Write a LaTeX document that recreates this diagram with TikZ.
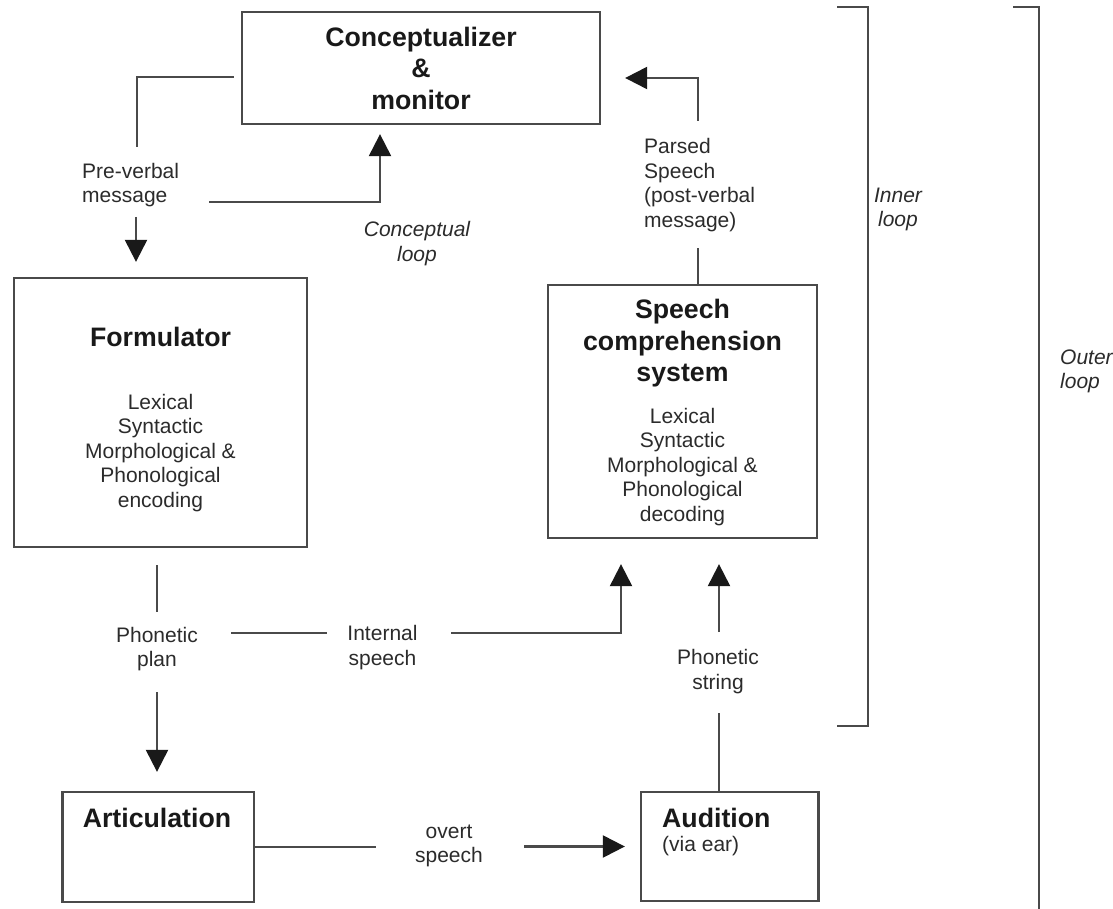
\documentclass[tikz,border=0pt]{standalone}
\usepackage{fontspec}
\setmainfont{Liberation Sans}
\usepackage{xcolor}
\usetikzlibrary{positioning, arrows.meta, calc}
\definecolor{linegray}{HTML}{4A4A4A}
\definecolor{textgray}{HTML}{2B2B2B}

\begin{document}
\begin{tikzpicture}[
    x=1pt, y=-1pt,
    box/.style={draw=linegray, line width=2.3pt, inner sep=0pt},
    head/.style={font=\bfseries\fontsize{26.7}{31.5}\selectfont, align=center,
                 inner sep=0pt, text=black!90},
    body/.style={font=\fontsize{21}{24.5}\selectfont, align=center,
                 inner sep=0pt, text=textgray},
    note/.style={body, font=\fontsize{21}{24.5}\selectfont\itshape},
    line/.style={draw=linegray, line width=2.2pt},
    arr/.style={line, -{Triangle[length=22pt, width=22pt, color=black!90, fill=black!90]}},
]
\useasboundingbox (0,0) rectangle (1113,909);

% Boxes
\node[box, head, minimum width=358pt, minimum height=112pt] (concept) at (421,68)
  {Conceptualizer\\\&\\monitor};
\node[box, minimum width=293pt, minimum height=269pt] (formulator) at (160.5,412.5) {};
\node[head] (formtitle) at (160.5,337) {Formulator};
\node[body] (formbody) at (160.5,453)
  {Lexical\\Syntactic\\Morphological \&\\Phonological\\encoding};
\node[box, minimum width=269pt, minimum height=253pt] (comprehension) at (682.5,411.5) {};
\node[head] (comptitle) at (682.5,343.5) {Speech\\comprehension\\system};
\node[body] (compbody) at (682.5,467)
  {Lexical\\Syntactic\\Morphological \&\\Phonological\\decoding};
\node[box, minimum width=191.5pt, minimum height=110pt] (artic) at (158.25,847) {};
\node[head] (artictitle) at (157,818) {Articulation};
\node[box, minimum width=177.5pt, minimum height=109pt] (audition) at (729.75,846.5) {};
\node[head, anchor=west] (audtitle) at (662,818) {Audition};
\node[body, anchor=west] (audbody) at (662,846) {(via ear)};

% Labels
\node[body, align=left, anchor=west] (preverbal) at (82,185) {Pre-verbal\\message};
\node[note] (conceptloop) at (417,243.5) {Conceptual\\loop};
\node[body, align=left, anchor=west] (parsed) at (644,185)
  {Parsed\\Speech\\(post-verbal\\message)};
\node[body] (phonplan) at (157,649) {Phonetic\\plan};
\node[body] (internal) at (382.5,647.5) {Internal\\speech};
\node[body] (overt) at (449,846) {overt\\speech};
\node[body] (phonstring) at (718,671.5) {Phonetic\\string};
\node[note] (innerloop) at (898,209.5) {Inner\\loop};
\node[note, align=left, anchor=west] (outerloop) at (1060,371.5) {Outer\\loop};

% Conceptualizer -> formulator, conceptual loop
\draw[line] ($(concept.west)+(-7,9)$) -| ($(preverbal.west)+(55,-38)$);
\draw[arr] ($(preverbal.west)+(54,32)$) -- ($(formulator.north)+(-24.5,-15)$);
\draw[arr] ($(preverbal.west)+(127,17)$) -| ($(concept.south)+(-41,9)$);

% Parsed speech back to monitor
\draw[line] ($(comprehension.north)+(15.5,0)$) -- ($(parsed.west)+(54,63)$);
\draw[arr] ($(parsed.west)+(54,-64)$) |- ($(concept.east)+(24,10)$);

% Phonetic plan, internal speech
\draw[line] ($(formulator.south)+(-3.5,17)$) -- ($(phonplan)+(0,-37)$);
\draw[arr] ($(phonplan)+(0,43)$) -- ($(artic.north)+(-1.25,-19)$);
\draw[line] ($(phonplan)+(74,-16)$) -- ($(internal)+(-55.5,-14.5)$);
\draw[arr] ($(internal)+(68.5,-14.5)$) -| ($(comprehension.south)+(-61.5,25)$);

% Overt speech, phonetic string
\draw[line] (artic.east) -- ($(overt)+(-73,1)$);
\draw[arr] ($(overt)+(75,0.5)$) -- ($(audition.west)+(-15,0)$);
\draw[line] ($(audition.north)+(-10.75,0)$) -- ($(phonstring)+(1,41.5)$);
\draw[arr] ($(phonstring)+(1,-39.5)$) -- ($(comprehension.south)+(36.5,25)$);

% Loop brackets
\draw[line] (837,7) -| (868,726) -- (837,726);
\draw[line] (1013,7) -| (1039,909);

\end{tikzpicture}
\end{document}
